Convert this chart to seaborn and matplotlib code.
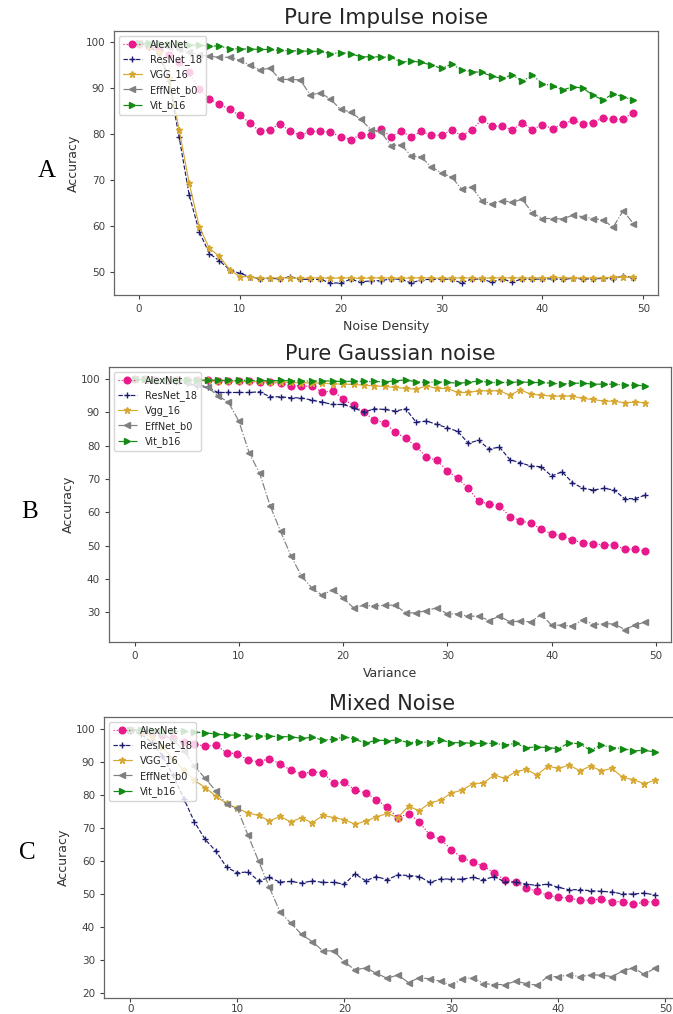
import matplotlib
matplotlib.use('Agg')
import matplotlib.pyplot as plt
import seaborn as sns

# noise level on the x axis (0..49)
x_vals = list(range(50))

model_names = ['AlexNet', 'ResNet_18', 'VGG_16', 'EffNet_b0', 'Vit_b16']
gauss_names = ['AlexNet', 'ResNet_18', 'Vgg_16', 'EffNet_b0', 'Vit_b16']

# --- A: pure impulse noise ---
impulse_alexnet = [99.6, 99.2, 98.5, 97.3, 95.6, 93.4, 89.9, 87.7, 86.5, 85.4,
                   84.1, 82.5, 80.6, 81.0, 82.3, 80.6, 79.8, 80.6, 80.6, 80.4,
                   79.5, 78.8, 79.9, 79.9, 81.1, 79.5, 80.6, 79.5, 80.6, 79.8,
                   79.8, 80.9, 79.7, 80.9, 83.2, 81.7, 81.8, 80.9, 82.5, 81.0,
                   82.1, 81.2, 82.2, 83.0, 82.3, 82.5, 83.6, 83.2, 83.3, 84.7]
impulse_resnet = [99.5, 99.0, 97.6, 91.5, 79.4, 66.8, 58.8, 54.1, 52.5, 50.6,
                  49.8, 49.1, 48.6, 48.7, 48.6, 49.1, 48.5, 48.5, 48.5, 47.7,
                  47.7, 48.5, 47.9, 48.2, 48.2, 48.6, 48.5, 47.7, 48.4, 48.5,
                  48.6, 48.5, 47.7, 48.6, 48.5, 47.9, 48.6, 47.9, 48.6, 48.5,
                  48.6, 48.6, 48.5, 48.7, 48.6, 48.6, 48.7, 48.6, 49.3, 48.8]
impulse_vgg = [99.6, 99.2, 97.9, 92.3, 81.0, 69.4, 59.9, 55.2, 53.5, 50.6,
               49.1, 49.1, 48.7, 48.8, 48.8, 48.8, 48.7, 48.8, 48.8, 48.7,
               48.8, 48.8, 48.7, 48.8, 48.8, 48.8, 48.7, 48.8, 48.8, 48.8,
               48.7, 48.8, 48.8, 48.8, 48.7, 48.8, 48.8, 48.8, 48.8, 48.8,
               48.8, 48.9, 48.8, 48.8, 48.8, 48.8, 48.8, 48.9, 49.0, 48.9]
impulse_effnet = [99.8, 99.6, 99.3, 98.9, 98.4, 97.8, 97.2, 96.9, 96.7, 96.7,
                  96.1, 95.0, 94.0, 94.3, 91.9, 91.9, 91.8, 88.5, 89.0, 87.6,
                  85.4, 84.8, 83.2, 81.0, 80.5, 77.5, 77.7, 75.3, 75.0, 72.9,
                  71.6, 70.7, 68.1, 68.5, 65.6, 64.8, 65.6, 65.2, 65.9, 62.9,
                  61.7, 61.7, 61.6, 62.4, 62.1, 61.7, 61.4, 59.8, 63.4, 60.6]
impulse_vit = [99.8, 99.7, 99.7, 99.6, 99.5, 99.4, 99.3, 99.2, 99.1, 98.6,
               98.5, 98.5, 98.4, 98.4, 98.2, 98.1, 98.1, 98.0, 98.0, 97.5,
               97.7, 97.5, 96.8, 96.8, 96.8, 96.7, 95.6, 95.9, 95.6, 95.0,
               94.3, 95.2, 94.0, 93.6, 93.4, 92.6, 92.1, 92.9, 91.5, 92.8,
               91.0, 90.5, 89.6, 90.3, 90.0, 88.5, 87.4, 88.8, 88.1, 87.4]

# --- B: pure gaussian noise ---
gauss_alexnet = [99.9, 99.9, 99.8, 99.8, 99.7, 99.7, 99.6, 99.6, 99.5, 99.5,
                 99.4, 99.3, 99.2, 99.0, 98.8, 98.0, 98.0, 97.8, 96.1, 96.5,
                 94.1, 92.1, 90.1, 87.7, 86.9, 84.0, 82.3, 79.8, 76.6, 75.6,
                 72.5, 70.2, 67.2, 63.3, 62.5, 62.0, 58.7, 57.5, 56.7, 55.0,
                 53.5, 53.0, 51.6, 50.9, 50.6, 50.2, 50.2, 48.9, 48.9, 48.4]
gauss_resnet = [99.9, 99.8, 99.7, 99.5, 99.2, 98.7, 98.0, 97.5, 96.0, 96.0,
                96.0, 96.0, 96.2, 94.7, 94.7, 94.4, 94.4, 93.7, 93.1, 92.4,
                92.4, 91.4, 90.1, 91.1, 90.9, 90.4, 91.1, 87.1, 87.4, 86.4,
                85.4, 84.3, 80.8, 81.6, 79.0, 79.6, 75.8, 74.9, 73.9, 73.7,
                70.9, 72.2, 68.9, 67.2, 66.7, 67.2, 66.7, 64.1, 64.1, 65.2]
gauss_vgg = [99.9, 99.9, 99.8, 99.8, 99.7, 99.7, 99.6, 99.6, 99.5, 99.5,
             99.4, 99.3, 99.3, 99.2, 99.1, 99.0, 98.9, 98.9, 98.8, 98.6,
             98.5, 98.4, 98.2, 98.0, 97.8, 97.5, 97.2, 97.0, 98.0, 97.2,
             97.2, 96.0, 96.0, 96.5, 96.5, 96.5, 95.2, 96.8, 95.5, 95.2,
             94.9, 94.9, 94.9, 94.2, 93.9, 93.4, 93.4, 92.9, 93.1, 92.9]
gauss_effnet = [99.9, 99.8, 99.7, 99.5, 99.3, 99.0, 98.5, 97.6, 95.0, 93.1,
                87.4, 77.8, 71.7, 62.0, 54.3, 46.9, 40.9, 37.3, 35.1, 36.8,
                34.3, 31.3, 32.1, 31.8, 32.1, 32.1, 29.8, 29.8, 30.5, 31.3,
                29.5, 29.5, 28.8, 28.8, 27.5, 28.8, 27.1, 27.3, 27.1, 29.3,
                26.1, 26.1, 25.8, 27.8, 26.3, 26.5, 26.5, 24.8, 26.1, 27.1]
gauss_vit = [99.9, 99.9, 99.8, 99.8, 99.8, 99.8, 99.7, 99.7, 99.7, 99.6,
             99.7, 99.6, 99.6, 99.5, 99.6, 99.5, 99.5, 99.4, 99.5, 99.4,
             99.3, 99.4, 99.3, 99.3, 99.2, 99.5, 99.8, 99.2, 99.0, 99.2,
             99.0, 98.8, 99.0, 99.5, 99.0, 99.0, 99.0, 99.2, 99.0, 99.0,
             98.8, 98.5, 98.8, 98.8, 98.5, 98.5, 98.5, 98.2, 98.2, 98.0]

# --- C: mixed noise ---
mixed_alexnet = [99.8, 99.5, 99.0, 98.2, 97.2, 96.0, 95.5, 94.8, 95.2, 92.8,
                 92.6, 90.6, 90.1, 91.1, 89.4, 87.6, 86.4, 87.1, 86.8, 83.7,
                 84.0, 81.5, 80.7, 78.7, 76.3, 73.2, 74.4, 71.9, 67.9, 66.6,
                 63.5, 61.0, 59.8, 58.5, 56.5, 54.4, 53.7, 51.9, 50.9, 49.7,
                 49.1, 48.9, 48.2, 48.2, 48.6, 47.8, 47.8, 47.1, 47.6, 47.8]
mixed_resnet = [99.5, 98.5, 96.0, 92.0, 86.0, 79.0, 71.9, 66.6, 63.1, 58.2,
                56.5, 56.8, 54.1, 55.1, 53.7, 53.9, 53.4, 54.1, 53.6, 53.6,
                53.1, 56.2, 54.1, 55.4, 54.4, 55.9, 55.7, 55.4, 53.6, 54.7,
                54.6, 54.6, 55.1, 54.4, 55.4, 53.7, 53.7, 53.1, 52.7, 53.1,
                52.1, 51.4, 51.4, 51.1, 50.9, 50.7, 50.1, 50.1, 50.4, 49.8]
mixed_vgg = [99.7, 99.2, 97.5, 94.5, 91.0, 87.5, 84.5, 82.3, 79.7, 77.5,
             76.0, 74.6, 73.9, 72.2, 73.6, 71.9, 73.2, 71.6, 73.9, 73.2,
             72.6, 71.2, 72.2, 73.4, 74.5, 73.2, 76.7, 75.3, 77.7, 78.5,
             80.7, 81.5, 83.5, 83.7, 86.1, 85.1, 87.1, 87.8, 86.1, 88.8,
             88.1, 89.1, 87.4, 88.8, 87.4, 88.1, 85.4, 84.7, 83.5, 84.5]
mixed_effnet = [99.8, 99.6, 99.2, 98.4, 96.8, 93.5, 88.8, 85.1, 81.3, 77.3,
                76.0, 67.9, 60.0, 52.1, 44.6, 41.3, 37.9, 35.7, 32.9, 32.9,
                29.6, 27.1, 27.8, 26.1, 24.6, 25.6, 23.3, 24.8, 24.4, 23.7,
                22.5, 24.4, 24.8, 23.0, 22.7, 22.7, 23.7, 23.0, 22.5, 25.1,
                25.1, 25.6, 25.1, 25.6, 25.6, 25.1, 26.8, 27.8, 25.8, 27.6]
mixed_vit = [99.8, 99.7, 99.6, 99.5, 99.4, 99.3, 99.1, 98.9, 98.5, 98.2,
             98.2, 97.9, 97.9, 97.9, 97.7, 97.7, 97.2, 97.5, 96.7, 96.9,
             97.7, 96.9, 95.7, 96.7, 96.5, 96.7, 95.9, 96.2, 95.9, 96.7,
             95.9, 95.9, 95.7, 95.7, 95.7, 95.2, 95.7, 94.4, 94.6, 94.4,
             94.1, 95.9, 95.5, 93.6, 95.2, 94.4, 94.1, 93.4, 93.6, 93.1]

# line look for each model (same order as model_names)
line_colors = ['#e8198b', '#1c1c70', '#d6a832', '#808080', '#138a13']
line_markers = ['o', '+', '*', '<', '>']
line_styles = [':', '--', '-', '-.', '-.']
marker_sizes = [4.8, 5, 5, 4.3, 4.6]

W, H = 673, 1014


def px_axes(fig, left, top, right, bottom):
    """axes placed by pixel box"""
    return fig.add_axes([left / W, 1 - bottom / H, (right - left) / W, (bottom - top) / H])


def draw_panel(ax, series, labels, title, xlabel, title_size, tick_pad=3.5):
    for i, y in enumerate(series):
        sns.lineplot(x=x_vals, y=y, ax=ax, label=labels[i],
                     color=line_colors[i], marker=line_markers[i],
                     linestyle=line_styles[i], markersize=marker_sizes[i],
                     markeredgecolor=line_colors[i], markeredgewidth=1,
                     linewidth=0.85)
    ax.set_title(title, fontsize=title_size, color='.15', pad=5)
    ax.set_ylabel('Accuracy', fontsize=9, color='.2')
    ax.set_xlabel(xlabel, fontsize=9, color='.2')
    ax.set_xticks([0, 10, 20, 30, 40, 50])
    ax.tick_params(labelsize=7.5, colors='.25', length=3)
    ax.tick_params(axis='x', pad=tick_pad)
    for sp in ax.spines.values():
        sp.set_color('.4')
        sp.set_linewidth(0.9)
    ax.legend(loc='upper left', fontsize=7, handlelength=2.0,
              labelspacing=0.45, borderpad=0.4, framealpha=0.8)


sns.set_style('ticks')
plt.rcParams['font.family'] = ['DejaVu Sans']

fig = plt.figure(figsize=(W / 100, H / 100), dpi=100)

ax_a = px_axes(fig, 114, 31, 658, 295)
draw_panel(ax_a, [impulse_alexnet, impulse_resnet, impulse_vgg, impulse_effnet, impulse_vit],
           model_names, 'Pure Impulse noise', 'Noise Density', 15.5)

ax_b = px_axes(fig, 109, 367, 671, 642)
draw_panel(ax_b, [gauss_alexnet, gauss_resnet, gauss_vgg, gauss_effnet, gauss_vit],
           gauss_names, 'Pure Gaussian noise', 'Variance', 15)

ax_c = px_axes(fig, 104, 717, 681, 998)
draw_panel(ax_c, [mixed_alexnet, mixed_resnet, mixed_vgg, mixed_effnet, mixed_vit],
           model_names, 'Mixed Noise', '', 15, tick_pad=1.5)

# panel letters
for letter, xp, yp in [('A', 47, 171), ('B', 30, 512), ('C', 27, 853)]:
    fig.text(xp / W, 1 - yp / H, letter, fontsize=18, ha='center', va='center',
             family=['Liberation Serif', 'DejaVu Serif'], color='black')

fig.savefig('out.png', dpi=100)
